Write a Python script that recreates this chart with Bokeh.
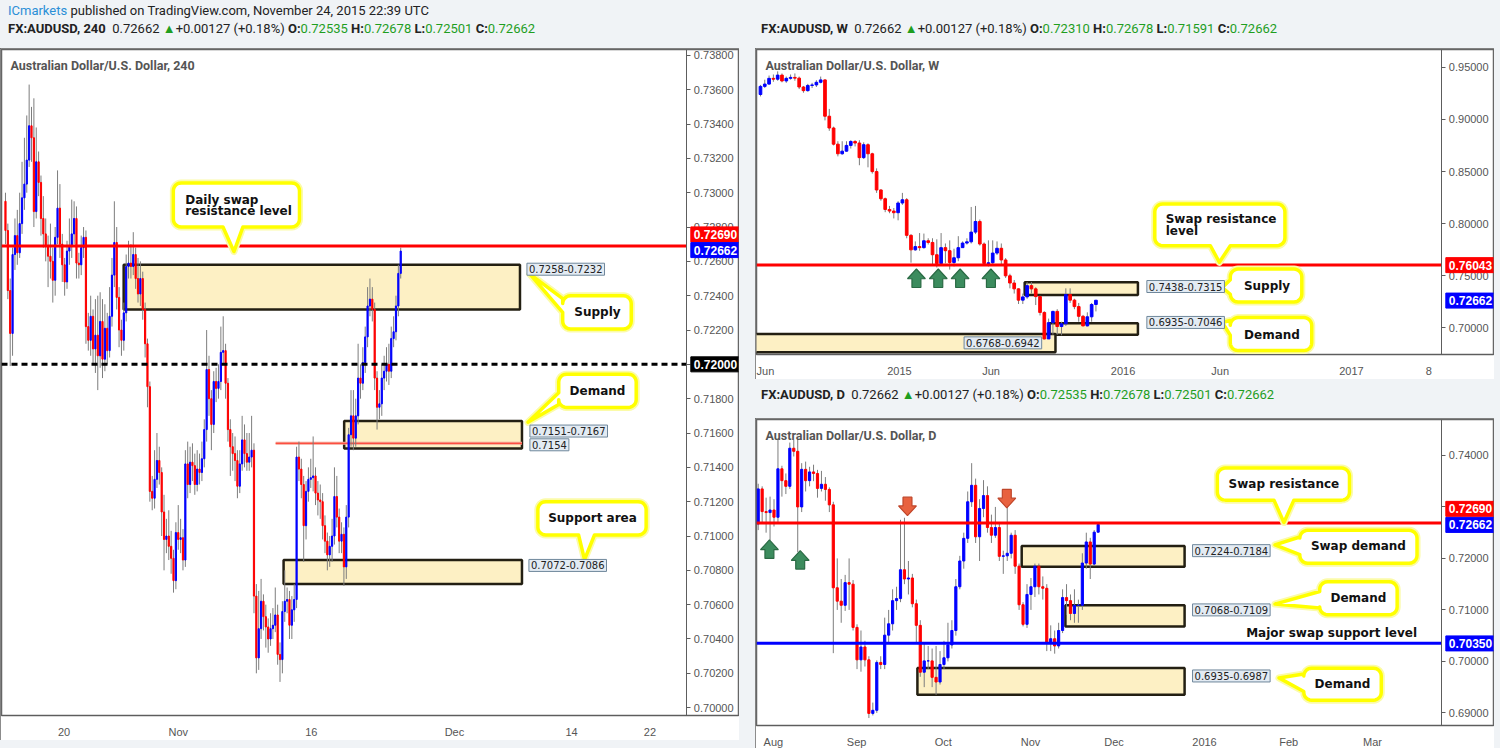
import numpy as np
from bokeh.plotting import figure
from bokeh.models import (Range1d, FixedTicker, SingleIntervalTicker, NumeralTickFormatter,
                          LinearAxis, Label, Div, ColumnDataSource)
from bokeh.layouts import row, column
from bokeh.embed import file_html
from bokeh.resources import INLINE

# ------------------------------------------------------------------ data: 4H
h4_first_open = 0.7295
h4_close = [0.7278,0.7243,0.7218,0.7264,0.7275,0.7265,0.7282,0.7297,0.7305,0.7319,
            0.7339,0.7332,0.7289,0.7318,0.7306,0.7285,0.7276,0.7269,0.7263,0.7260,
            0.7249,0.7274,0.7291,0.7270,0.7258,0.7248,0.7266,0.7269,0.7276,0.7285,
            0.7259,0.7258,0.7268,0.7274,0.7222,0.7214,0.7228,0.7209,0.7217,0.7205,
            0.7225,0.7203,0.7221,0.7208,0.7228,0.7252,0.7271,0.7239,0.7220,0.7214,
            0.7230,0.7257,0.7259,0.7257,0.7264,0.7250,0.7241,0.7250,0.7232,0.7212,
            0.7187,0.7126,0.7122,0.7133,0.7144,0.7137,0.7114,0.7098,0.7100,0.7094,
            0.7087,0.7074,0.7102,0.7098,0.7099,0.7086,0.7142,0.7130,0.7143,0.7141,
            0.7130,0.7139,0.7137,0.7145,0.7162,0.7197,0.7180,0.7165,0.7190,0.7186,
            0.7190,0.7207,0.7208,0.7189,0.7162,0.7152,0.7148,0.7144,0.7129,0.7142,
            0.7156,0.7148,0.7143,0.7146,0.7150,0.7065,0.7029,0.7046,0.7062,0.7053,
            0.7047,0.7040,0.7046,0.7048,0.7054,0.7031,0.7028,0.7056,0.7062,0.7063,
            0.7048,0.7057,0.7063,0.7146,0.7139,0.7130,0.7106,0.7126,0.7133,0.7134,
            0.7135,0.7125,0.7121,0.7120,0.7106,0.7097,0.7089,0.7094,0.7100,0.7123,
            0.7111,0.7097,0.7101,0.7082,0.7111,0.7159,0.7170,0.7157,0.7170,0.7192,
            0.7189,0.7201,0.7216,0.7234,0.7238,0.7232,0.7192,0.7175,0.7177,0.7192,
            0.7196,0.7200,0.7196,0.7215,0.7219,0.7234,0.7253,0.7266]
h4_high = [0.7300,0.7282,0.7250,0.7268,0.7285,0.7290,0.7300,0.7318,0.7332,0.7345,
           0.7363,0.7350,0.7355,0.7338,0.7324,0.7310,0.7298,0.7285,0.7275,0.7282,
           0.7268,0.7280,0.7313,0.7305,0.7276,0.7262,0.7272,0.7285,0.7296,0.7295,
           0.7292,0.7265,0.7275,0.7280,0.7278,0.7230,0.7240,0.7232,0.7238,0.7240,
           0.7242,0.7238,0.7235,0.7230,0.7245,0.7262,0.7295,0.7280,0.7245,0.7226,
           0.7236,0.7264,0.7272,0.7270,0.7277,0.7268,0.7262,0.7260,0.7254,0.7236,
           0.7215,0.7190,0.7135,0.7150,0.7160,0.7152,0.7140,0.7124,0.7110,0.7115,
           0.7103,0.7092,0.7108,0.7118,0.7110,0.7104,0.7150,0.7155,0.7152,0.7154,
           0.7148,0.7150,0.7148,0.7155,0.7168,0.7220,0.7205,0.7185,0.7196,0.7198,
           0.7200,0.7222,0.7228,0.7212,0.7192,0.7168,0.7160,0.7158,0.7150,0.7150,
           0.7170,0.7165,0.7160,0.7160,0.7170,0.7154,0.7072,0.7068,0.7075,0.7066,
           0.7060,0.7052,0.7055,0.7058,0.7070,0.7060,0.7038,0.7062,0.7080,0.7070,
           0.7068,0.7065,0.7072,0.7152,0.7155,0.7145,0.7135,0.7132,0.7140,0.7145,
           0.7158,0.7140,0.7132,0.7130,0.7125,0.7112,0.7102,0.7100,0.7110,0.7140,
           0.7135,0.7116,0.7108,0.7105,0.7118,0.7163,0.7185,0.7185,0.7180,0.7212,
           0.7200,0.7210,0.7222,0.7245,0.7250,0.7245,0.7236,0.7196,0.7185,0.7200,
           0.7205,0.7210,0.7212,0.7222,0.7228,0.7240,0.7258,0.7268]
h4_low = [0.7270,0.7238,0.7199,0.7205,0.7255,0.7258,0.7262,0.7276,0.7290,0.7300,
          0.7315,0.7318,0.7280,0.7285,0.7298,0.7275,0.7268,0.7260,0.7245,0.7250,
          0.7236,0.7240,0.7270,0.7262,0.7248,0.7240,0.7244,0.7258,0.7262,0.7270,
          0.7250,0.7250,0.7252,0.7262,0.7212,0.7208,0.7205,0.7200,0.7195,0.7185,
          0.7198,0.7192,0.7196,0.7200,0.7204,0.7222,0.7245,0.7232,0.7210,0.7205,
          0.7208,0.7225,0.7250,0.7250,0.7252,0.7244,0.7236,0.7234,0.7226,0.7204,
          0.7175,0.7120,0.7115,0.7116,0.7128,0.7130,0.7100,0.7080,0.7090,0.7086,
          0.7078,0.7067,0.7069,0.7092,0.7090,0.7080,0.7082,0.7122,0.7125,0.7132,
          0.7124,0.7126,0.7130,0.7132,0.7140,0.7155,0.7170,0.7150,0.7160,0.7178,
          0.7180,0.7185,0.7200,0.7180,0.7155,0.7135,0.7138,0.7132,0.7122,0.7125,
          0.7138,0.7140,0.7138,0.7138,0.7140,0.7055,0.7020,0.7022,0.7040,0.7045,
          0.7035,0.7032,0.7036,0.7040,0.7044,0.7025,0.7015,0.7020,0.7050,0.7055,
          0.7040,0.7040,0.7050,0.7058,0.7132,0.7122,0.7085,0.7098,0.7120,0.7128,
          0.7126,0.7118,0.7112,0.7110,0.7098,0.7090,0.7080,0.7082,0.7085,0.7095,
          0.7105,0.7090,0.7090,0.7071,0.7075,0.7105,0.7152,0.7150,0.7152,0.7165,
          0.7180,0.7185,0.7195,0.7210,0.7228,0.7225,0.7185,0.7162,0.7168,0.7170,
          0.7185,0.7190,0.7188,0.7192,0.7210,0.7214,0.7228,0.7250]
h4_ticks = [24.76, 73.0, 129.2, 189.7, 239.2, 272.3]
h4_tick_labels = ["20", "Nov", "16", "Dec", "14", "22"]
h4_resistance = 0.7269
h4_round = 0.7200
h4_supply = [0.7232, 0.7258]
h4_demand = [0.7151, 0.7167]
h4_demand_line = 0.7154
h4_support = [0.7072, 0.7086]
last_price = 0.72662

# ------------------------------------------------------------------ data: weekly
w_first_open = 0.9238
w_close = [0.9316,0.9338,0.9393,0.9385,0.9424,0.9368,0.9393,0.9402,0.9395,0.9310,
           0.9275,0.9325,0.9330,0.9355,0.9378,0.9030,0.8917,0.8762,0.8670,0.8695,
           0.8750,0.8788,0.8773,0.8633,0.8757,0.8670,0.8499,0.8323,0.8239,0.8136,
           0.8121,0.8105,0.8198,0.8229,0.7888,0.7749,0.7780,0.7770,0.7836,0.7820,
           0.7702,0.7618,0.7770,0.7741,0.7628,0.7673,0.7770,0.7814,0.7826,0.7919,
           0.8021,0.7805,0.7618,0.7625,0.7718,0.7764,0.7652,0.7500,0.7431,0.7375,
           0.7267,0.7298,0.7406,0.7375,0.7301,0.7149,0.6895,0.7051,0.7159,0.7014,
           0.7040,0.7320,0.7267,0.7205,0.7112,0.7020,0.7107,0.7225,0.7266]
w_high = [0.9330,0.9380,0.9420,0.9430,0.9460,0.9440,0.9410,0.9430,0.9440,0.9410,
          0.9320,0.9340,0.9350,0.9375,0.9410,0.9385,0.9100,0.8930,0.8790,0.8790,
          0.8790,0.8800,0.8800,0.8800,0.8780,0.8770,0.8680,0.8530,0.8330,0.8250,
          0.8170,0.8150,0.8215,0.8295,0.8245,0.7900,0.7830,0.7910,0.7905,0.7860,
          0.7860,0.7850,0.7910,0.7810,0.7840,0.7760,0.7880,0.7830,0.7860,0.8160,
          0.8170,0.8040,0.7820,0.7840,0.7840,0.7830,0.7810,0.7670,0.7520,0.7460,
          0.7380,0.7330,0.7440,0.7440,0.7390,0.7310,0.7160,0.7090,0.7165,0.7180,
          0.7060,0.7380,0.7380,0.7280,0.7240,0.7125,0.7150,0.7240,0.7268]
w_low = [0.9220,0.9300,0.9330,0.9360,0.9370,0.9355,0.9350,0.9380,0.9370,0.9290,
         0.9255,0.9265,0.9300,0.9310,0.9345,0.8990,0.8890,0.8750,0.8645,0.8660,
         0.8690,0.8720,0.8740,0.8560,0.8620,0.8540,0.8480,0.8295,0.8220,0.8110,
         0.8100,0.8050,0.8032,0.8180,0.7860,0.7626,0.7740,0.7740,0.7760,0.7800,
         0.7600,0.7580,0.7600,0.7620,0.7560,0.7590,0.7640,0.7780,0.7800,0.7810,
         0.7900,0.7790,0.7600,0.7590,0.7600,0.7700,0.7600,0.7480,0.7380,0.7330,
         0.7230,0.7230,0.7280,0.7330,0.7220,0.7120,0.6890,0.6900,0.6935,0.6935,
         0.6930,0.7020,0.7240,0.7180,0.7060,0.7016,0.7015,0.7060,0.7159]
w_ticks = [1.15, 32.3, 53.6, 84.3, 106.9, 137.4, 155.4]
w_tick_labels = ["Jun", "2015", "Jun", "2016", "Jun", "2017", "8"]
w_resistance = 0.76043
w_supply = [0.7315, 0.7438]
w_demand = [0.6935, 0.7046]
w_demand_big = [0.6768, 0.6942]

# ------------------------------------------------------------------ data: daily
d_first_open = 0.7267
d_close = [0.7335,0.7291,0.7289,0.7294,0.7280,0.7374,0.7351,0.7340,0.7414,0.7408,
           0.7300,0.7373,0.7351,0.7368,0.7365,0.7336,0.7344,0.7334,0.7304,0.7143,
           0.7117,0.7109,0.7153,0.7150,0.7066,0.7003,0.7028,0.7003,0.6899,0.6905,
           0.6998,0.6994,0.7051,0.7073,0.7118,0.7122,0.7178,0.7160,0.7162,0.7112,
           0.7070,0.6979,0.7001,0.7001,0.6969,0.6960,0.6994,0.7007,0.7032,0.7060,
           0.7145,0.7195,0.7239,0.7310,0.7342,0.7242,0.7297,0.7322,0.7260,0.7245,
           0.7260,0.7204,0.7205,0.7210,0.7245,0.7185,0.7110,0.7072,0.7130,0.7145,
           0.7185,0.7145,0.7142,0.7035,0.7044,0.7030,0.7060,0.7124,0.7118,0.7093,
           0.7109,0.7109,0.7191,0.7232,0.7189,0.7251,0.7266]
d_high = [0.7345,0.7340,0.7318,0.7320,0.7315,0.7432,0.7380,0.7365,0.7425,0.7430,
          0.7432,0.7385,0.7388,0.7378,0.7382,0.7372,0.7370,0.7358,0.7338,0.7310,
          0.7200,0.7160,0.7168,0.7200,0.7158,0.7072,0.7060,0.7040,0.7010,0.6920,
          0.7002,0.7010,0.7085,0.7100,0.7140,0.7145,0.7275,0.7279,0.7195,0.7170,
          0.7120,0.7080,0.7035,0.7030,0.7025,0.7030,0.7020,0.7040,0.7075,0.7080,
          0.7160,0.7205,0.7250,0.7330,0.7385,0.7355,0.7315,0.7352,0.7340,0.7285,
          0.7300,0.7270,0.7215,0.7302,0.7250,0.7255,0.7190,0.7115,0.7150,0.7162,
          0.7190,0.7190,0.7165,0.7150,0.7070,0.7060,0.7075,0.7140,0.7150,0.7130,
          0.7140,0.7120,0.7210,0.7250,0.7240,0.7255,0.7268]
d_low = [0.7255,0.7270,0.7250,0.7235,0.7262,0.7270,0.7320,0.7325,0.7335,0.7398,
         0.7212,0.7290,0.7330,0.7340,0.7350,0.7318,0.7330,0.7312,0.7290,0.7016,
         0.7100,0.7075,0.7098,0.7100,0.7060,0.6985,0.6980,0.6990,0.6890,0.6895,
         0.6900,0.6985,0.6985,0.7035,0.7060,0.7100,0.7115,0.7150,0.7130,0.7105,
         0.7035,0.6970,0.6950,0.6985,0.6950,0.6935,0.6955,0.6985,0.7000,0.7025,
         0.7050,0.7140,0.7180,0.7230,0.7300,0.7230,0.7195,0.7280,0.7250,0.7230,
         0.7240,0.7195,0.7170,0.7195,0.7200,0.7170,0.7100,0.7068,0.7065,0.7100,
         0.7125,0.7130,0.7120,0.7020,0.7020,0.7015,0.7025,0.7055,0.7090,0.7080,
         0.7075,0.7075,0.7100,0.7180,0.7160,0.7185,0.7250]
d_ticks = [3.84, 24.9, 46.8, 68.9, 90.0, 112.9, 134.2, 155.4]
d_tick_labels = ["Aug", "Sep", "Oct", "Nov", "Dec", "2016", "Feb", "Mar"]
d_resistance = 0.7269
d_support = 0.7035
d_swap_demand = [0.7184, 0.7224]
d_demand = [0.7068, 0.7109]
d_demand2 = [0.6935, 0.6987]

# ------------------------------------------------------------------ helpers
RED, BLUE = "#ff0000", "#0000ff"
ZONE_FILL, ZONE_LINE = "#fdf0c4", "#231f12"
BOLD = "DejaVu Sans"


def mapper(fx0, fx1, fy0, fy1, x0, x1, y0, y1):
    """reference-frame pixel -> data coordinates (annotation placement only)"""
    def f(px, py):
        return (x0 + (px - fx0) / (fx1 - fx0) * (x1 - x0),
                y1 - (py - fy0) / (fy1 - fy0) * (y1 - y0))
    return f


def make_fig(w, h, xr, yr, ax_x, ticks, labels, yint):
    # the frame spans the whole panel; the price axis is pinned at ax_x
    p = figure(width=w, height=h, x_range=Range1d(*xr), y_range=Range1d(*yr),
               output_backend="svg", toolbar_location=None, y_axis_location=None,
               min_border_left=1, min_border_top=1, min_border_right=1, min_border_bottom=21,
               background_fill_color="white", border_fill_color="white",
               outline_line_color="#666666", outline_line_width=1.5,
               styles={"outline": "1.5px solid #666666", "outline-offset": "-1.5px"})
    p.grid.visible = False
    p.xaxis.ticker = FixedTicker(ticks=ticks)
    p.xaxis.major_label_overrides = {t: l for t, l in zip(ticks, labels)}
    p.xaxis.major_tick_line_color = None
    p.xaxis.minor_tick_line_color = None
    p.xaxis.major_label_standoff = 4
    yax = LinearAxis(fixed_location=ax_x, ticker=SingleIntervalTicker(interval=yint),
                     formatter=NumeralTickFormatter(format="0.00000"))
    p.add_layout(yax, "right")
    yax.minor_tick_line_color = None
    yax.major_tick_out = 4
    yax.major_tick_in = 0
    yax.major_label_standoff = 3
    for ax in (p.xaxis[0], yax):
        ax.axis_line_color = "#5d5d5d"
        ax.major_label_text_font = "Liberation Sans"
        ax.major_label_text_font_size = "11px"
        ax.major_label_text_color = "#555555"
    yax.major_tick_line_color = "#5d5d5d"
    return p


def candles(p, first_open, closes, highs, lows, width):
    opens = [first_open] + closes[:-1]
    src = ColumnDataSource(dict(
        x=list(range(len(closes))), h=highs, l=lows,
        top=[max(o, c) for o, c in zip(opens, closes)],
        bot=[min(o, c) for o, c in zip(opens, closes)],
        color=[BLUE if c >= o else RED for o, c in zip(opens, closes)]))
    p.segment(x0="x", y0="l", x1="x", y1="h", source=src, line_color="#7d7d7d", line_width=1)
    p.vbar(x="x", width=width, top="top", bottom="bot", source=src,
           fill_color="color", line_color="color", line_width=1)


def hline(p, x0, x1, level, color, dash="solid"):
    p.segment(x0=[x0], x1=[x1], y0=[level], y1=[level], line_color=color, line_width=3,
              line_dash=dash)


def zone(p, m, pxl, pxr, rng):
    xl = m(pxl, 0)[0]
    xr = m(pxr, 0)[0]
    p.quad(left=[xl], right=[xr], bottom=[rng[0]], top=[rng[1]],
           fill_color=ZONE_FILL, line_color=ZONE_LINE, line_width=2.5)


def callout(p, m, box, side, base, tip, r=8):
    x0, y0, x1, y1 = box
    pts = []

    def arc(cx, cy, a0, a1):
        for t in np.linspace(a0, a1, 7):
            pts.append((cx + r * np.cos(t), cy + r * np.sin(t)))
    arc(x0 + r, y0 + r, np.pi, 1.5 * np.pi)
    arc(x1 - r, y0 + r, 1.5 * np.pi, 2 * np.pi)
    arc(x1 - r, y1 - r, 0, 0.5 * np.pi)
    if side == "bottom":
        pts += [(base[1], y1), tip, (base[0], y1)]
    arc(x0 + r, y1 - r, 0.5 * np.pi, np.pi)
    if side == "left":
        pts += [(x0, base[1]), tip, (x0, base[0])]
    xs, ys = zip(*[m(a, b) for a, b in pts])
    p.patch(list(xs), list(ys), fill_color=None, line_color="#fbfba8", line_width=7, line_join="round")
    p.patch(list(xs), list(ys), fill_color="white", line_color="#ffff00", line_width=3.5, line_join="round")


def text(p, m, px, py, s, align="center", size="12px", color="#111111", bold=True, font=BOLD):
    x, y = m(px, py)
    p.add_layout(Label(x=x, y=y, text=s, text_align=align, text_baseline="middle",
                       text_font=font, text_font_size=size, text_color=color,
                       text_font_style="bold" if bold else "normal"))


def range_label(p, m, px, py, s):
    x, y = m(px, py)
    p.add_layout(Label(x=x, y=y, text=s, text_align="left", text_baseline="middle",
                       text_font="DejaVu Sans", text_font_size="10px", text_color="#222222",
                       background_fill_color="#e3ebf3", border_line_color="#6f879b",
                       border_line_width=1, padding=2))


def price_tag(p, m, px, py, s, bg):
    x, y = m(px, py)
    p.add_layout(Label(x=x, y=y, text=s, text_align="left", text_baseline="middle",
                       text_font="Liberation Sans", text_font_size="12px", text_color="white",
                       text_font_style="bold", background_fill_color=bg,
                       border_line_color=bg, padding=3))


def arrow(p, m, cx, ytop, up, fill, edge):
    if up:
        pts = [(cx, ytop), (cx + 9, ytop + 10), (cx + 4.5, ytop + 10), (cx + 4.5, ytop + 19),
               (cx - 4.5, ytop + 19), (cx - 4.5, ytop + 10), (cx - 9, ytop + 10)]
    else:
        pts = [(cx - 4.5, ytop), (cx + 4.5, ytop), (cx + 4.5, ytop + 9), (cx + 9, ytop + 9),
               (cx, ytop + 19), (cx - 9, ytop + 9), (cx - 4.5, ytop + 9)]
    xs, ys = zip(*[m(a, b) for a, b in pts])
    p.patch(list(xs), list(ys), fill_color=fill, line_color=edge, line_width=1.2)


def title(p, m, px, py, s):
    text(p, m, px, py, s, align="left", size="12.5px", color="#555555", font="Roboto")


# ------------------------------------------------------------------ 4H panel
h4_x0, h4_ax, h4_yr = -1.68, 287.9, (0.699543, 0.738343)
m4 = mapper(3, 693, 42, 721, h4_x0, h4_ax, h4_yr[0], h4_yr[1])
p4 = make_fig(739, 692, (h4_x0, m4(745, 0)[0]), h4_yr, h4_ax, h4_ticks, h4_tick_labels, 0.002)
zone(p4, m4, 126, 525, h4_supply)
zone(p4, m4, 348, 527, h4_demand)
zone(p4, m4, 287, 527, h4_support)
p4.line(x=[m4(279, 0)[0], m4(527, 0)[0]], y=[h4_demand_line, h4_demand_line],
        line_color="#f4a090", line_width=3)
p4.line(x=[m4(279, 0)[0], m4(527, 0)[0]], y=[h4_demand_line, h4_demand_line],
        line_color="#ff3b2f", line_width=1)
candles(p4, h4_first_open, h4_close, h4_high, h4_low, 0.5)
hline(p4, h4_x0, h4_ax, h4_resistance, RED)
hline(p4, h4_x0, h4_ax, h4_round, "black", "6 4")
title(p4, m4, 12, 58, "Australian Dollar/U.S. Dollar, 240")
callout(p4, m4, (176, 178, 303, 223), "bottom", (226, 246), (237, 248))
text(p4, m4, 188, 195, "Daily swap", align="left")
text(p4, m4, 188, 207, "resistance level", align="left")
callout(p4, m4, (568, 293, 637, 327), "left", (296, 310), (535, 271))
text(p4, m4, 603, 310, "Supply")
callout(p4, m4, (564, 373, 642, 407), "left", (392, 404), (533, 422))
text(p4, m4, 603, 390, "Demand")
callout(p4, m4, (543, 503, 652, 537), "bottom", (584, 600), (590, 562))
text(p4, m4, 598, 520, "Support area")
range_label(p4, m4, 532, 266, "0.7258-0.7232")
range_label(p4, m4, 535, 431, "0.7151-0.7167")
range_label(p4, m4, 535, 445, "0.7154")
range_label(p4, m4, 534, 568, "0.7072-0.7086")
price_tag(p4, m4, 697, 230.5, "0.72690", RED)
price_tag(p4, m4, 697, 246.5, "0.72662", BLUE)
price_tag(p4, m4, 697, 363, "0.72000", "#000000")

# ------------------------------------------------------------------ weekly panel
w_x0, w_ax, w_yr = -0.924, 158.43, (0.67458, 0.96695)
mw = mapper(751, 1441, 42, 356, w_x0, w_ax, w_yr[0], w_yr[1])
pw = make_fig(739, 331, (w_x0, mw(1493, 0)[0]), w_yr, w_ax, w_ticks, w_tick_labels, 0.05)
zone(pw, mw, 1021, 1135, w_supply)
zone(pw, mw, 1046, 1135, w_demand)
zone(pw, mw, 740, 1052, w_demand_big)
candles(pw, w_first_open, w_close, w_high, w_low, 0.62)
hline(pw, w_x0, w_ax, w_resistance, RED)
title(pw, mw, 760, 58, "Australian Dollar/U.S. Dollar, W")
for cx in (912, 934, 956, 987):
    arrow(pw, mw, cx, 268, True, "#3c8c5e", "#2a6a44")
callout(pw, mw, (1152, 201, 1283, 244), "bottom", (1208, 1228), (1217, 261))
text(pw, mw, 1163, 217, "Swap resistance", align="left")
text(pw, mw, 1163, 229, "level", align="left")
callout(pw, mw, (1228, 268, 1300, 302), "left", (279, 294), (1220, 287))
text(pw, mw, 1265, 285, "Supply")
callout(pw, mw, (1228, 318, 1310, 352), "left", (321, 336), (1220, 323))
text(pw, mw, 1270, 336, "Demand")
range_label(pw, mw, 1144, 286, "0.7438-0.7315")
range_label(pw, mw, 1144, 323, "0.6935-0.7046")
range_label(pw, mw, 960, 344, "0.6768-0.6942")
price_tag(pw, mw, 1445, 264, "0.76043", RED)
price_tag(pw, mw, 1445, 300.5, "0.72662", BLUE)

# ------------------------------------------------------------------ daily panel
d_x0, d_ax, d_yr = -0.427, 172.94, (0.68755, 0.74698)
md = mapper(751, 1441, 406, 721, d_x0, d_ax, d_yr[0], d_yr[1])
pd_ = make_fig(739, 332, (d_x0, md(1493, 0)[0]), d_yr, d_ax, d_ticks, d_tick_labels, 0.01)
zone(pd_, md, 1018, 1182, d_swap_demand)
zone(pd_, md, 1062, 1182, d_demand)
zone(pd_, md, 913, 1182, d_demand2)
candles(pd_, d_first_open, d_close, d_high, d_low, 0.55)
hline(pd_, d_x0, d_ax, d_resistance, RED)
hline(pd_, d_x0, d_ax, d_support, BLUE)
title(pd_, md, 760, 422, "Australian Dollar/U.S. Dollar, D")
arrow(pd_, md, 764, 530, True, "#3c8c5e", "#2a6a44")
arrow(pd_, md, 795, 541, True, "#3c8c5e", "#2a6a44")
arrow(pd_, md, 903, 486, False, "#e8623f", "#c0462a")
arrow(pd_, md, 1003, 478, False, "#e8623f", "#c0462a")
callout(pd_, md, (1215, 456, 1348, 489), "bottom", (1272, 1292), (1282, 512))
text(pd_, md, 1282, 472, "Swap resistance")
callout(pd_, md, (1298, 520, 1416, 554), "left", (527, 545), (1273, 535))
text(pd_, md, 1357, 536, "Swap demand")
callout(pd_, md, (1318, 573, 1396, 607), "left", (583, 600), (1273, 596))
text(pd_, md, 1357, 590, "Demand")
callout(pd_, md, (1302, 662, 1380, 695), "left", (668, 686), (1277, 672))
text(pd_, md, 1341, 678, "Demand")
text(pd_, md, 1330, 626, "Major swap support level")
range_label(pd_, md, 1190, 541, "0.7224-0.7184")
range_label(pd_, md, 1190, 602, "0.7068-0.7109")
range_label(pd_, md, 1190, 670, "0.6935-0.6987")
price_tag(pd_, md, 1445, 498, "0.72690", RED)
price_tag(pd_, md, 1445, 514.5, "0.72662", BLUE)
price_tag(pd_, md, 1445, 636.5, "0.70350", BLUE)

# ------------------------------------------------------------------ headers
G = "#1f9e1f"
FONT = "font-family:Roboto,'Liberation Sans',sans-serif;font-size:13px;color:#222;"


def quote(tf, o, h, l, c):
    return (f"<b>FX:AUDUSD, {tf}</b>&nbsp; 0.72662 <span style='color:{G}'>&#9650;</span>"
            f"+0.00127 (+0.18%) <b>O:</b><span style='color:{G}'>{o}</span> "
            f"<b>H:</b><span style='color:{G}'>{h}</span> <b>L:</b><span style='color:{G}'>{l}</span> "
            f"<b>C:</b><span style='color:{G}'>{c}</span>")


div_l = Div(text=(f"<div style=\"{FONT}line-height:18px;padding-left:3px;margin-top:-3px;white-space:nowrap\">"
                  "<span style='color:#2b8fd6'>ICmarkets</span> published on TradingView.com, "
                  "November 24, 2015 22:39 UTC<br>" + quote("240", "0.72535", "0.72678", "0.72501", "0.72662")
                  + "</div>"), width=739, height=38, styles={"background-color": "#f0f3f6"})
div_w = Div(text=(f"<div style=\"{FONT}line-height:18px;padding-left:1px;margin-top:-3px;white-space:nowrap\"><br>"
                  + quote("W", "0.72310", "0.72678", "0.71591", "0.72662") + "</div>"),
            width=739, height=38, styles={"background-color": "#f0f3f6"})
div_d = Div(text=(f"<div style=\"{FONT}line-height:18px;padding-left:1px;padding-top:2px;white-space:nowrap\">"
                  + quote("D", "0.72535", "0.72678", "0.72501", "0.72662") + "</div>"),
            width=739, height=29, styles={"background-color": "#f0f3f6"})

left = column(div_l, p4, spacing=0)
right = column(div_w, pw, div_d, pd_, spacing=0)
layout = row(left, right, spacing=6, styles={"background-color": "#f0f3f6"})

open("out.html", "w").write(file_html(layout, INLINE))
